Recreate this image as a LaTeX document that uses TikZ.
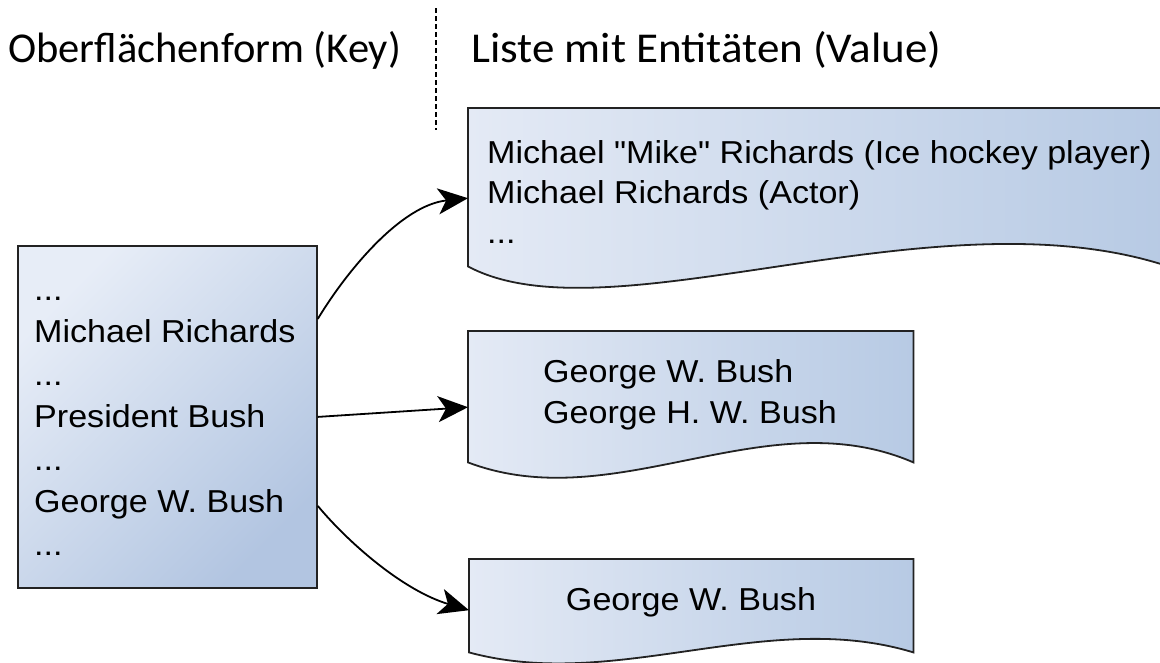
\documentclass[tikz,border=0pt]{standalone}
\usepackage{fontspec}
\setmainfont{Liberation Sans}[FakeStretch=1.075]
\newfontfamily\nomapfont{Liberation Sans}[FakeStretch=1.075]
\newfontfamily\headfont{Carlito}
\newfontfamily\headfontwide{Carlito}[FakeStretch=1.06]
\usetikzlibrary{arrows.meta,calc}
\definecolor{boxlight}{HTML}{E7EDF7}
\definecolor{boxdark}{HTML}{B2C5E1}
\definecolor{doclight}{HTML}{E4EAF5}
\definecolor{docdark}{HTML}{B7CAE4}
\definecolor{edgecol}{HTML}{222222}
\begin{document}
\begin{tikzpicture}[x=1pt,y=-1pt,
  keybox/.style={draw=edgecol, line width=1.8pt, top color=boxlight, bottom color=boxdark, shading angle=45,
     anchor=north west, inner sep=0pt, minimum width=299pt, minimum height=342pt},
  docnode/.style={anchor=north west, inner sep=0pt, draw=none},
  docshape/.style={draw=edgecol, line width=1.8pt, left color=doclight, right color=docdark, line join=miter},
  bodytext/.style={inner sep=0pt, align=left, text=black},
  headtext/.style={inner sep=0pt, anchor=base west},
  conn/.style={line width=1.8pt, draw=black, -{Stealth[length=30pt,width=26pt,inset=8pt]}},
  divider/.style={draw=black, line width=1.3pt, dash pattern=on 5pt off 3pt}
]
\useasboundingbox (0,0) rectangle (1160,662);
\clip (0,0) rectangle (1160,662);

% headers
\node[headtext, font=\headfont\fontsize{42.5pt}{48pt}\selectfont] (hkey) at (8,62) {Oberflächenform (Key)};
\node[headtext, font=\headfontwide\fontsize{42.5pt}{48pt}\selectfont] (hval) at (471,62) {Liste mit Entitäten (Value)};
\coordinate (dtop) at (436,8);
\coordinate (dbot) at (436,130);
\path[divider] (dtop) -- (dbot);

% key box
\node[keybox] (key) at (17,245) {};
\node[bodytext, anchor=north west, font=\fontsize{31.7pt}{42.5pt}\selectfont] (keytxt) at (34,270.25)
  {\strut...\\Michael Richards\\...\\President Bush\\...\\George W. Bush\\...};

% value documents (frames)
\node[docnode, minimum width=700pt, minimum height=158pt] (v1) at (468,108) {};
\node[docnode, minimum width=445pt, minimum height=131pt] (v2) at (468,331) {};
\node[docnode, minimum width=444pt, minimum height=93pt] (v3) at (469,559) {};

\path[docshape] (v1.north west) -- (v1.north east) -- (v1.south east)
  .. controls ($(v1.south east)+(-233,-77)$) and ($(v1.south west)+(140,75)$) .. (v1.south west) -- cycle;
\path[docshape] (v2.north west) -- (v2.north east) -- (v2.south east)
  .. controls ($(v2.south east)+(-148,-64)$) and ($(v2.south west)+(148,56)$) .. (v2.south west) -- cycle;
\path[docshape] (v3.north west) -- (v3.north east) -- (v3.south east)
  .. controls ($(v3.south east)+(-148,-45)$) and ($(v3.south west)+(148,40)$) .. (v3.south west) -- cycle;

\node[bodytext, anchor=north west, font=\fontsize{31.7pt}{40pt}\selectfont] (t1) at (487,135)
  {\strut Michael {\nomapfont"}Mike{\nomapfont"} Richards (Ice hockey player)\\Michael Richards (Actor)\\...};
\node[bodytext, anchor=north, font=\fontsize{31.7pt}{41pt}\selectfont] (t2) at (690,353.3)
  {\strut George W. Bush\\George H. W. Bush};
\node[bodytext, anchor=base, font=\fontsize{31.7pt}{41pt}\selectfont] (t3) at (691,610)
  {George W. Bush};

% connectors
\draw[conn] ([yshift=98pt]key.east) .. controls +(29,-48) and +(-67,7) .. ([yshift=-11pt]v1.west);
\draw[conn] (key.east) -- ([yshift=-10.5pt]v2.west);
\draw[conn] ([yshift=-89pt]key.east) .. controls +(29,35) and +(-67,-20) .. ([yshift=-4.5pt]v3.west);
\end{tikzpicture}
\end{document}
